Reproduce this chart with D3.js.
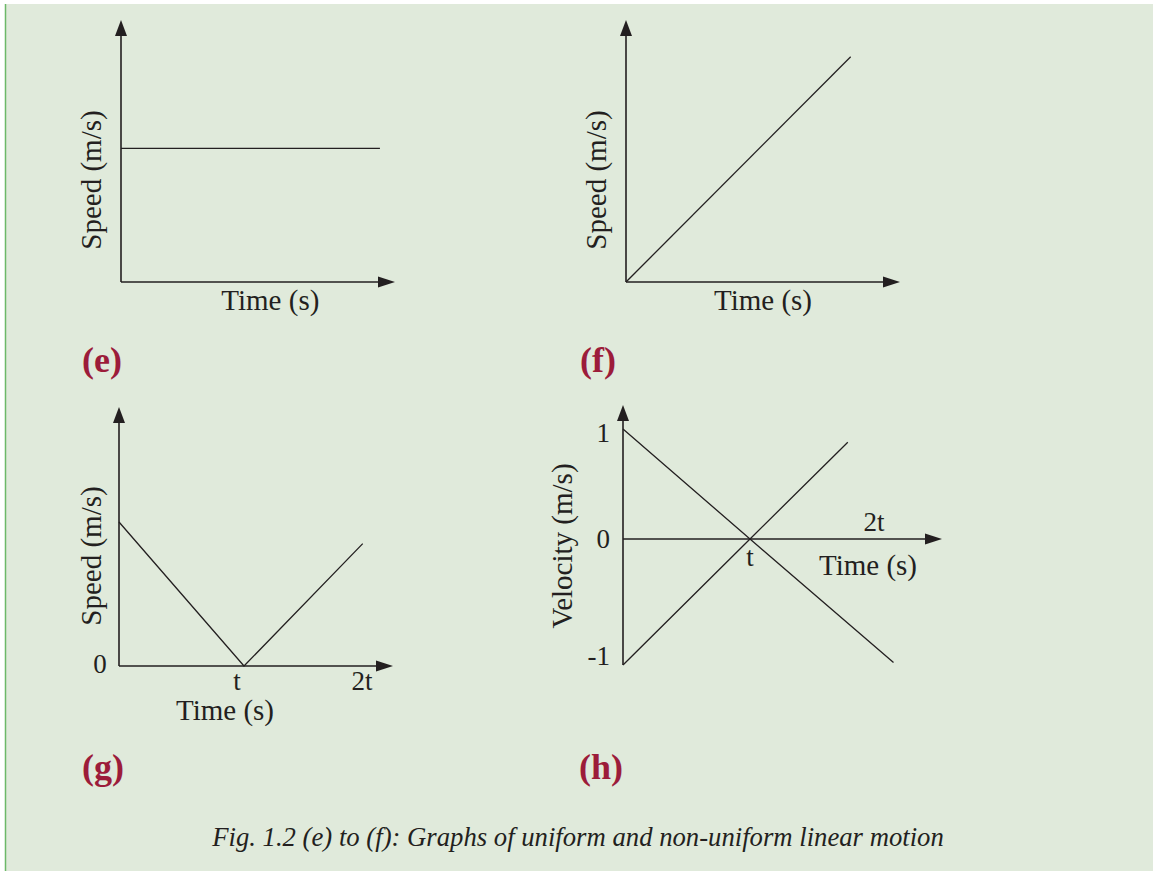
<!DOCTYPE html>
<html lang="en">
<head>
<meta charset="UTF-8">
<title>Fig. 1.2 (e) to (f)</title>
<script src="https://d3js.org/d3.v7.min.js"></script>
<style>
  html, body { margin: 0; padding: 0; background: #ffffff; }
  svg { display: block; }
</style>
</head>
<body>
<script>
// ---- data (time in units of t, speed/velocity in arbitrary units) ----
var eTime = [0, 0.945];
var eSpeed = [0.51, 0.51];

var fTime = [0, 0.82];
var fSpeed = [0, 0.86];

var gTime = [0, 1, 1.95];
var gSpeed = [1, 0, 0.85];

var hTimeDown = [0, 1, 2.13];
var hVelDown = [1, 0, -0.98];
var hTimeUp = [0, 1, 1.77];
var hVelUp = [-1, 0, 0.88];

var gXTicks = [1, 2];
var gXTickLabels = ["t", "2t"];
var gYTicks = [0];
var gYTickLabels = ["0"];

var hXTicks = [1, 2];
var hXTickLabels = ["t", "2t"];
var hYTicks = [1, 0, -1];
var hYTickLabels = ["1", "0", "-1"];

var panelLetters = ["(e)", "(f)", "(g)", "(h)"];
var caption = "Fig. 1.2 (e) to (f): Graphs of uniform and non-uniform linear motion";

// ---- page ----
var width = 1153, height = 871;
var ink = "#231f20";
var serif = "'Liberation Serif', 'Times New Roman', serif";

var svg = d3.select("body").append("svg")
    .attr("width", width).attr("height", height);

// background panel with green left rule
svg.append("rect").attr("x", 5).attr("y", 4).attr("width", width - 5).attr("height", height - 4)
    .attr("fill", "#e0eadb");
svg.append("line").attr("x1", 5.5).attr("x2", 5.5).attr("y1", 4).attr("y2", height)
    .attr("stroke", "#6cb868").attr("stroke-width", 1.5);

// arrow-headed axis helpers
function arrowUp(g, x, y) {
    g.append("path").attr("d", "M" + x + "," + y + "l-6,16l12,0z").attr("fill", ink);
}
function arrowRight(g, x, y) {
    g.append("path").attr("d", "M" + x + "," + y + "l-17,-5.5l0,11z").attr("fill", ink);
}

function drawAxes(g, x0, y0, yBottom, yTip, xTip) {
    g.append("line").attr("x1", x0).attr("x2", x0).attr("y1", yBottom).attr("y2", yTip + 10)
        .attr("stroke", ink).attr("stroke-width", 1.6);
    arrowUp(g, x0, yTip);
    g.append("line").attr("x1", x0).attr("x2", xTip - 10).attr("y1", y0).attr("y2", y0)
        .attr("stroke", ink).attr("stroke-width", 1.6);
    arrowRight(g, xTip, y0);
}

function drawLine(g, xs, ys, times, values) {
    var pts = times.map(function(t, i) { return [t, values[i]]; });
    var line = d3.line().x(function(d) { return xs(d[0]); }).y(function(d) { return ys(d[1]); });
    g.append("path").datum(pts).attr("d", line)
        .attr("fill", "none").attr("stroke", ink).attr("stroke-width", 1.3);
}

function yTitle(g, x, y, label) {
    g.append("text").attr("transform", "translate(" + x + "," + y + ") rotate(-90)")
        .attr("text-anchor", "middle").attr("font-family", serif).attr("font-size", 29)
        .attr("fill", ink).text(label);
}
function xTitle(g, x, y, label) {
    g.append("text").attr("x", x).attr("y", y)
        .attr("text-anchor", "middle").attr("font-family", serif).attr("font-size", 29)
        .attr("fill", ink).text(label);
}
function tickText(g, x, y, label, anchor) {
    g.append("text").attr("x", x).attr("y", y)
        .attr("text-anchor", anchor || "middle").attr("font-family", serif).attr("font-size", 27)
        .attr("fill", ink).text(label);
}
function letter(g, x, y, label) {
    g.append("text").attr("x", x).attr("y", y)
        .attr("font-family", serif).attr("font-size", 36).attr("font-weight", "bold")
        .attr("fill", "#9c1c3a").text(label);
}

var g = svg.append("g");

// (e) uniform speed
var xE = d3.scaleLinear().domain([0, 1]).range([121, 395]);
var yE = d3.scaleLinear().domain([0, 1]).range([282, 20]);
drawAxes(g, xE(0), yE(0), yE(0), 20, 395);
drawLine(g, xE, yE, eTime, eSpeed);
yTitle(g, 101, 180, "Speed (m/s)");
xTitle(g, xE(0.545), 310, "Time (s)");
letter(g, 82, 372, panelLetters[0]);

// (f) uniform acceleration
var xF = d3.scaleLinear().domain([0, 1]).range([626, 900]);
var yF = d3.scaleLinear().domain([0, 1]).range([282, 20]);
drawAxes(g, xF(0), yF(0), yF(0), 20, 900);
drawLine(g, xF, yF, fTime, fSpeed);
yTitle(g, 606, 180, "Speed (m/s)");
xTitle(g, xF(0.5), 310, "Time (s)");
letter(g, 580, 372, panelLetters[1]);

// (g) speed down then up
var xG = d3.scaleLinear().domain([0, 2]).range([119, 369]);
var yG = d3.scaleLinear().domain([0, 1]).range([666, 522]);
drawAxes(g, xG(0), yG(0), yG(0), 407, 393);
drawLine(g, xG, yG, gTime, gSpeed);
gXTicks.forEach(function(v, i) { tickText(g, xG(v) - 7, 690, gXTickLabels[i]); });
gYTicks.forEach(function(v, i) { tickText(g, 100, yG(v) + 7, gYTickLabels[i]); });
yTitle(g, 101, 556, "Speed (m/s)");
xTitle(g, 225, 720, "Time (s)");
letter(g, 82, 779, panelLetters[2]);

// (h) velocity through zero
var xH = d3.scaleLinear().domain([0, 2]).range([623, 877]);
var yH = d3.scaleLinear().domain([-1, 0, 1]).range([665, 539, 429]);
drawAxes(g, xH(0), yH(0), yH(-1), 405, 942);
drawLine(g, xH, yH, hTimeDown, hVelDown);
drawLine(g, xH, yH, hTimeUp, hVelUp);
tickText(g, xH(hXTicks[0]), 566, hXTickLabels[0]);
tickText(g, xH(hXTicks[1]) - 3, 531, hXTickLabels[1]);
hYTicks.forEach(function(v, i) { tickText(g, 610, yH(v) + (v === 1 ? 13 : (v === -1 ? 0 : 9)), hYTickLabels[i], "end"); });
yTitle(g, 572, 546, "Velocity (m/s)");
xTitle(g, 868, 575, "Time (s)");
letter(g, 579, 779, panelLetters[3]);

// caption
svg.append("text").attr("x", 578).attr("y", 846)
    .attr("text-anchor", "middle").attr("font-family", serif).attr("font-size", 26.7)
    .attr("font-style", "italic").attr("fill", ink).text(caption);
</script>
</body>
</html>
